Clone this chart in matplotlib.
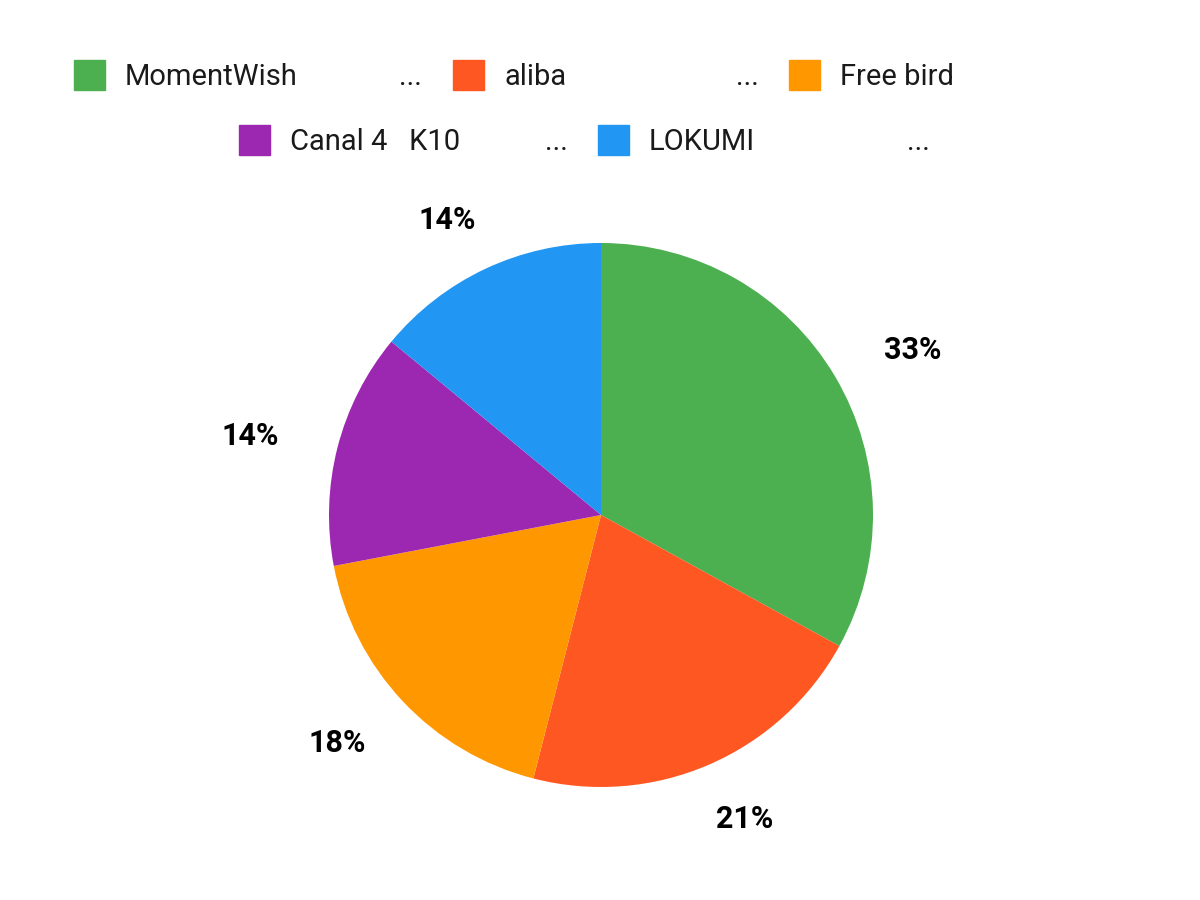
import numpy as np
import matplotlib
matplotlib.use('Agg')
import matplotlib.pyplot as plt
from matplotlib.patches import Rectangle

plt.rcParams['font.family'] = ['Roboto', 'DejaVu Sans']

names = ['MomentWish', 'aliba', 'Free bird', 'Canal 4   K10', 'LOKUMI']
shares = [33, 21, 18, 14, 14]
colors = ['#4CAF50', '#FF5722', '#FF9800', '#9C27B0', '#2196F3']

fig = plt.figure(figsize=(12, 9), dpi=100)
W, H = 1200.0, 900.0

# pie axes: centre (601, 515) px, radius 272 px
cx, cy, r = 601, 515, 272
ax = fig.add_axes([(cx - r) / W, 1 - (cy + r) / H, 2 * r / W, 2 * r / H])
wedges, _ = ax.pie(shares, colors=colors, startangle=90, counterclock=False,
                   radius=1, wedgeprops=dict(linewidth=0))
ax.set_xlim(-1, 1)
ax.set_ylim(-1, 1)
ax.set_aspect('equal')
ax.axis('off')

total = float(sum(shares))
for w, v in zip(wedges, shares):
    mid = np.deg2rad((w.theta1 + w.theta2) / 2)
    dx, dy = np.cos(mid), np.sin(mid)
    # labels sit on a slightly wider-than-tall ring; baseline shifted so digits centre on it
    ax.text(1.33 * dx, 1.21 * dy - 0.042, '%d%%' % round(100 * v / total),
            ha='center', va='baseline',
            fontsize=22, fontweight='bold', color='#000000', clip_on=False)

# legend drawn by hand, two rows with truncated entries
legend_rows = [
    [(0, 74, 410), (1, 453, 747), (2, 789, None)],
    [(3, 239, 556), (4, 598, 918)],
]
row_y = [75, 140]
for row, y in zip(legend_rows, row_y):
    for idx, x0, dots in row:
        fig.patches.append(Rectangle((x0 / W, 1 - (y + 15) / H), 31 / W, 30 / H,
                                     transform=fig.transFigure, color=colors[idx]))
        fig.text((x0 + 51) / W, 1 - (y + 10) / H, names[idx], ha='left', va='baseline',
                 fontsize=21, color='#1a1a1a')
        if dots is not None:
            fig.text(dots / W, 1 - (y + 10) / H, '...', ha='center', va='baseline',
                     fontsize=21, color='#1a1a1a')

fig.savefig('out.png', dpi=100, facecolor='white')
